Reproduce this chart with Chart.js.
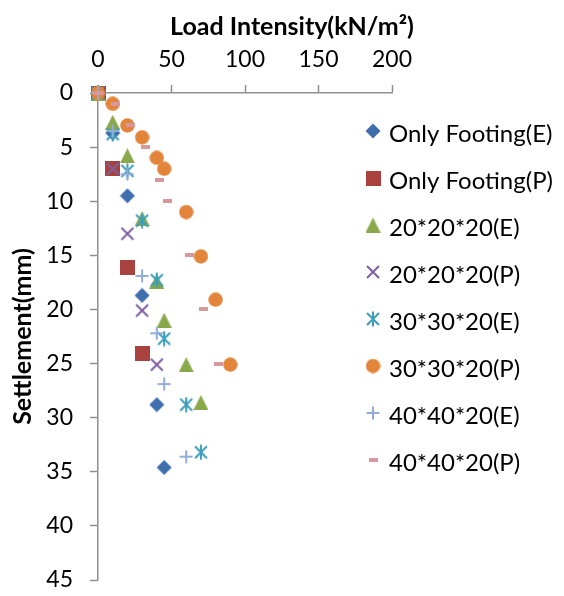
<!DOCTYPE html>
<html>
<head>
<meta charset="utf-8">
<script src="https://cdn.jsdelivr.net/npm/chart.js@4.4.0/dist/chart.umd.min.js"></script>
<style>
  html, body { margin: 0; padding: 0; background: #fff; }
</style>
</head>
<body>
<canvas id="chart" width="564" height="596"></canvas>
<script>
// load intensity (kN/m2) and settlement (mm) for each test series
const seriesNames = ['Only Footing(E)', 'Only Footing(P)', '20*20*20(E)', '20*20*20(P)',
                     '30*30*20(E)', '30*30*20(P)', '40*40*20(E)', '40*40*20(P)'];

const footingE_load = [0, 10, 20, 30, 40, 45];
const footingE_settle = [0, 3.7, 9.5, 18.7, 28.8, 34.6];

const footingP_load = [0, 10, 20, 30];
const footingP_settle = [0, 7, 16.1, 24.1];

const g20E_load = [0, 10, 20, 30, 40, 45, 60, 70];
const g20E_settle = [0, 2.7, 5.8, 11.6, 17.4, 21, 25.1, 28.6];

const g20P_load = [0, 10, 20, 30, 40];
const g20P_settle = [0, 7, 13, 20.1, 25.1];

const g30E_load = [0, 10, 20, 30, 40, 45, 60, 70];
const g30E_settle = [0, 3.8, 7.2, 11.8, 17.3, 22.7, 28.8, 33.2];

const g30P_load = [0, 10, 20, 30, 40, 45, 60, 70, 80, 90];
const g30P_settle = [0, 1, 3, 4.1, 6, 7, 11, 15.1, 19.1, 25.1];

const g40E_load = [0, 10, 20, 30, 40, 45, 60];
const g40E_settle = [0, 3.5, 7.5, 16.9, 22.2, 26.9, 33.6];

const g40P_load = [0, 12, 22, 32, 42, 47, 62, 72, 82];
const g40P_settle = [0, 1, 3, 5, 8, 10, 15, 20, 25];

const xTicks = [0, 50, 100, 150, 200];
const yTicks = [0, 5, 10, 15, 20, 25, 30, 35, 40, 45];

const FONT = 'Lato, "Open Sans", sans-serif';

function pts(xs, ys) {
  return xs.map((x, i) => ({ x: x, y: ys[i] }));
}

// marker images, roughly the Excel 2010 scatter markers
function marker(kind, color) {
  const c = document.createElement('canvas');
  const s = { square: 15, diamond: 16, triangle: 15, x: 16, star: 16, circle: 15, plus: 14, dash: 9 }[kind];
  c.width = s;
  c.height = kind === 'dash' ? 4 : s;
  const g = c.getContext('2d');
  g.fillStyle = color;
  g.strokeStyle = color;
  g.lineWidth = 2;
  g.beginPath();
  if (kind === 'square') {
    g.fillRect(0, 0, s, s);
  } else if (kind === 'diamond') {
    g.moveTo(s / 2, 0.5); g.lineTo(s - 0.5, s / 2); g.lineTo(s / 2, s - 0.5); g.lineTo(0.5, s / 2);
    g.closePath(); g.fill();
  } else if (kind === 'triangle') {
    g.moveTo(s / 2, 0); g.lineTo(s, s); g.lineTo(0, s);
    g.closePath(); g.fill();
  } else if (kind === 'circle') {
    g.arc(s / 2, s / 2, s / 2 - 0.3, 0, Math.PI * 2); g.fill();
  } else if (kind === 'dash') {
    g.fillRect(0, 0, c.width, c.height);
  } else {
    if (kind === 'x' || kind === 'star') {
      g.moveTo(2, 2); g.lineTo(s - 2, s - 2);
      g.moveTo(s - 2, 2); g.lineTo(2, s - 2);
    }
    if (kind === 'star' || kind === 'plus') {
      g.moveTo(s / 2, 0.5); g.lineTo(s / 2, s - 0.5);
    }
    if (kind === 'plus') {
      g.moveTo(0.5, s / 2); g.lineTo(s - 0.5, s / 2);
    }
    g.stroke();
  }
  return c;
}

const markers = [
  marker('diamond', '#3F6EAC'),
  marker('square', '#A9423E'),
  marker('triangle', '#88A84A'),
  marker('x', '#7D60A0'),
  marker('star', '#3D9EB9'),
  marker('circle', '#E2853B'),
  marker('plus', '#93ABD8'),
  marker('dash', '#D6989A')
];

const seriesData = [
  pts(footingE_load, footingE_settle),
  pts(footingP_load, footingP_settle),
  pts(g20E_load, g20E_settle),
  pts(g20P_load, g20P_settle),
  pts(g30E_load, g30E_settle),
  pts(g30P_load, g30P_settle),
  pts(g40E_load, g40E_settle),
  pts(g40P_load, g40P_settle)
];

// x title and legend sit outside the normal layout boxes
const sideText = {
  id: 'sideText',
  afterDraw(chart) {
    const ctx = chart.ctx;
    ctx.save();
    ctx.fillStyle = '#000';
    ctx.textBaseline = 'middle';
    ctx.textAlign = 'center';
    ctx.font = 'bold 25px ' + FONT;
    ctx.fillText('Load Intensity(kN/m\u00B2)', 292, 27);

    ctx.textAlign = 'left';
    ctx.font = '24px ' + FONT;
    chart.data.datasets.forEach((ds, i) => {
      const y = 131 + i * 47;
      const m = ds.pointStyle;
      ctx.drawImage(m, 373 - m.width / 2, y - m.height / 2);
      ctx.fillText(ds.label, 389, y + 3);
    });
    ctx.restore();
  }
};

new Chart(document.getElementById('chart'), {
  type: 'scatter',
  data: {
    datasets: seriesNames.map((name, i) => ({
      label: name,
      data: seriesData[i],
      pointStyle: markers[i],
      pointRadius: 8,
      showLine: false,
      clip: false,
      order: seriesNames.length - i
    }))
  },
  options: {
    responsive: false,
    animation: false,
    layout: { padding: { left: 0, top: 0, right: 172, bottom: 16 } },
    plugins: {
      legend: { display: false },
      tooltip: { enabled: false }
    },
    scales: {
      x: {
        type: 'linear',
        position: 'top',
        min: 0,
        max: 200,
        afterBuildTicks: s => { s.ticks = xTicks.map(v => ({ value: v })); },
        afterFit: s => { s.height = 93; },
        ticks: { font: { family: FONT, size: 23 }, color: '#000', padding: 12 },
        grid: { drawOnChartArea: false, tickLength: 8, tickColor: '#909090', tickWidth: 1.5 },
        border: { color: '#909090', width: 1.5 }
      },
      y: {
        type: 'linear',
        position: 'left',
        reverse: true,
        min: 0,
        max: 45,
        afterBuildTicks: s => { s.ticks = yTicks.map(v => ({ value: v })); },
        afterFit: s => { s.width = 98; s.paddingTop = 0; s.paddingBottom = 0; },
        ticks: { font: { family: FONT, size: 23 }, color: '#000', padding: 17 },
        grid: { drawOnChartArea: false, tickLength: 8, tickColor: '#909090', tickWidth: 1.5 },
        border: { color: '#909090', width: 1.5 },
        title: {
          display: true,
          text: 'Settlement(mm)',
          color: '#000',
          font: { family: FONT, size: 25, weight: 'bold' },
          padding: { top: 8, bottom: 0 }
        }
      }
    }
  },
  plugins: [sideText]
});
</script>
</body>
</html>
